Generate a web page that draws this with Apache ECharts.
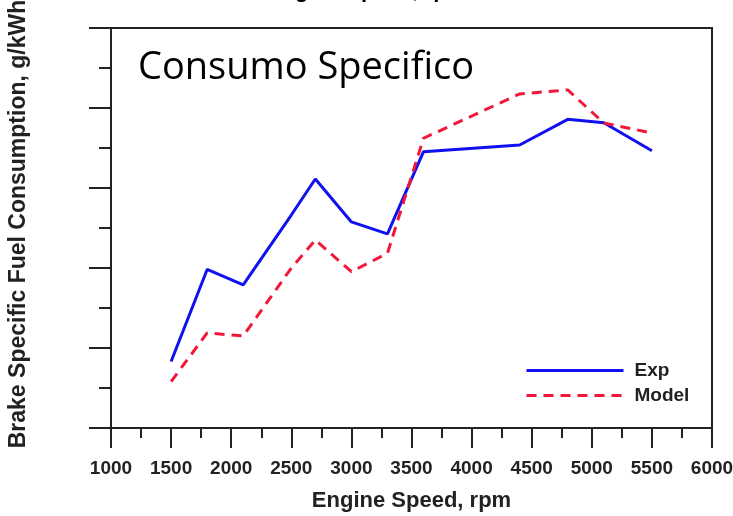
<!DOCTYPE html>
<html>
<head>
<meta charset="utf-8">
<script src="https://cdn.jsdelivr.net/npm/echarts@6/dist/echarts.min.js"></script>
<style>
  html, body { margin: 0; padding: 0; background: #fff; }
  #chart { width: 733px; height: 516px; }
</style>
</head>
<body>
<div id="chart"></div>
<script>
// engine speed (rpm) and brake specific fuel consumption (y axis has no numbers)
const rpm = [1500, 1800, 2100, 2500, 2700, 3000, 3300, 3600, 4400, 4800, 5100, 5500];
const expValues = [241.6, 299.1, 289.4, 333.1, 355.6, 328.8, 321.3, 372.7, 376.9, 392.9, 390.8, 373.3];
const modelValues = [229.0, 259.4, 257.5, 300.0, 317.5, 297.7, 309.2, 381.1, 408.8, 411.3, 390.6, 384.4];
const seriesNames = ['Exp', 'Model'];

const FONT = '"Liberation Sans", Arial, sans-serif';

const chart = echarts.init(document.getElementById('chart'), null, { renderer: 'canvas' });

const pairs = (ys) => rpm.map((x, i) => [x, ys[i]]);

const option = {
  backgroundColor: '#fff',
  animation: false,
  title: {
    text: 'Consumo Specifico',
    left: 133,
    top: 44,
    textStyle: {
      fontFamily: '"Open Sans", sans-serif',
      fontSize: 38,
      fontWeight: 'normal',
      color: '#000'
    }
  },
  graphic: [{
    // header text cut off at the top of the picture
    type: 'text',
    left: 'center',
    top: -20,
    style: {
      text: 'Engine Speed, rpm',
      font: 'bold 22px ' + FONT,
      fill: '#000'
    }
  }],
  legend: {
    orient: 'vertical',
    left: 520,
    top: 356,
    itemWidth: 97,
    itemHeight: 20,
    itemGap: 6,
    data: seriesNames,
    itemStyle: { opacity: 0 },
    lineStyle: { width: 3 },
    textStyle: {
      fontFamily: FONT,
      fontSize: 19,
      fontWeight: 'bold',
      color: '#222',
      padding: [0, 0, 0, 6]
    }
  },
  grid: {
    left: 111,
    right: 21,
    top: 28,
    bottom: 88,
    outerBoundsMode: 'none',
    show: true,
    borderColor: '#222',
    borderWidth: 2
  },
  xAxis: {
    type: 'value',
    min: 1000,
    max: 6000,
    interval: 500,
    name: 'Engine Speed, rpm',
    nameLocation: 'middle',
    nameGap: 62,
    nameTextStyle: { fontFamily: FONT, fontSize: 22, fontWeight: 'bold', color: '#222' },
    axisLine: { onZero: false, lineStyle: { color: '#222', width: 2 } },
    axisTick: { length: 20, lineStyle: { color: '#222', width: 2 } },
    minorTick: { show: true, splitNumber: 2, length: 10, lineStyle: { color: '#222', width: 2 } },
    axisLabel: {
      margin: 31,
      fontFamily: FONT,
      fontSize: 19,
      fontWeight: 'bold',
      color: '#222',
      formatter: (v) => String(v)
    },
    splitLine: { show: false }
  },
  yAxis: {
    type: 'value',
    min: 200,
    max: 450,
    interval: 50,
    name: 'Brake Specific Fuel Consumption, g/kWh',
    nameLocation: 'middle',
    nameGap: 81,
    nameTextStyle: { fontFamily: FONT, fontSize: 23, fontWeight: 'bold', color: '#222', padding: [0, 0, 0, 8] },
    axisLine: { lineStyle: { color: '#222', width: 2 } },
    axisTick: { length: 22, lineStyle: { color: '#222', width: 2 } },
    minorTick: { show: true, splitNumber: 2, length: 12, lineStyle: { color: '#222', width: 2 } },
    axisLabel: { show: false },
    splitLine: { show: false }
  },
  series: [{
    name: seriesNames[0],
    type: 'line',
    symbol: 'none',
    data: pairs(expValues),
    lineStyle: { color: '#1010f0', width: 3 },
    itemStyle: { color: '#1010f0' }
  }, {
    name: seriesNames[1],
    type: 'line',
    symbol: 'none',
    data: pairs(modelValues),
    lineStyle: { color: '#f01838', width: 3, type: [10, 7] },
    itemStyle: { color: '#f01838' }
  }]
};

chart.setOption(option);
</script>
</body>
</html>
